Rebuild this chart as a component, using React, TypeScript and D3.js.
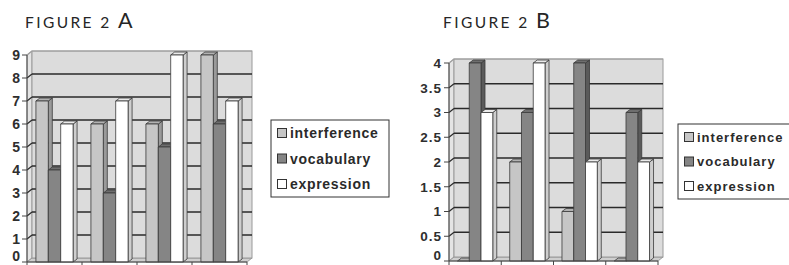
import * as d3 from 'd3'

const CATEGORIES = ['c1', 'c2', 'c3', 'c4']
const SERIES = ['interference', 'vocabulary', 'expression']

// figure 2 A
const A_INTERFERENCE = [7, 6, 6, 9]
const A_VOCABULARY = [4, 3, 5, 6]
const A_EXPRESSION = [6, 7, 9, 7]
const A_TICKS = [0, 1, 2, 3, 4, 5, 6, 7, 8, 9]

// figure 2 B
const B_INTERFERENCE = [0, 2, 1, 0]
const B_VOCABULARY = [4, 3, 4, 3]
const B_EXPRESSION = [3, 4, 2, 2]
const B_TICKS = [0, 0.5, 1, 1.5, 2, 2.5, 3, 3.5, 4]

const FILLS: Record<string, { front: string; side: string; top: string }> = {
  interference: { front: '#c6c6c6', side: '#9a9a9a', top: '#b2b2b2' },
  vocabulary: { front: '#858585', side: '#5a5a5a', top: '#6e6e6e' },
  expression: { front: '#ffffff', side: '#cecece', top: '#ebebeb' },
}

const FONT = "'Liberation Sans', Arial, sans-serif"
const TITLE_FONT = "Lato, 'Open Sans', sans-serif"

// depth of the walls and of the bars
const DX = 5
const DY = -4
const BDX = 4
const BDY = -3

type ChartProps = {
  letter: string
  titleX: number
  series: number[][]
  ticks: number[]
  x0: number
  x1: number
  y0: number
  y1: number
  tickFont: number
  tickSpacing: number
  legend: { x: number; y: number; w: number; h: number; row: number; ls: number; fs: number }
}

function Chart({ letter, titleX, series, ticks, x0, x1, y0, y1, tickFont, tickSpacing, legend }: ChartProps) {
  const max = d3.max(ticks) as number
  const y = d3.scaleLinear().domain([0, max]).range([y0, y1])
  const gx = d3.scaleBand().domain(CATEGORIES).range([x0, x1])
  const sx = d3.scaleBand().domain(SERIES).range([0, gx.bandwidth()]).paddingInner(0).paddingOuter(0.72)
  const w = sx.bandwidth()
  const pts = (p: number[][]) => p.map((d) => d.join(',')).join(' ')
  const yTop = y(max)

  return (
    <g>
      {/* title */}
      <text x={titleX} y={28} fill="#262626" fontFamily={TITLE_FONT}>
        <tspan fontSize={15.5} letterSpacing={2.4}>FIGURE 2 </tspan>
        <tspan fontSize={21.5}>{letter}</tspan>
      </text>

      {/* side wall, floor, back wall */}
      <polygon points={pts([[x0, y0], [x0, yTop], [x0 + DX, yTop + DY], [x0 + DX, y0 + DY]])} fill="#e4e4e4" stroke="#8a8a8a" strokeWidth={0.8} />
      <polygon points={pts([[x0, y0], [x1, y0], [x1 + DX, y0 + DY], [x0 + DX, y0 + DY]])} fill="#cfcfcf" stroke="#8a8a8a" strokeWidth={0.8} />
      <rect x={x0 + DX} y={yTop + DY} width={x1 - x0} height={y0 - yTop} fill="#dcdcdc" stroke="#9a9a9a" strokeWidth={1} />

      {ticks.filter((t) => t > 0).map((t) => (
        <g key={t}>
          <line x1={x0 + DX} x2={x1 + DX} y1={y(t) + DY} y2={y(t) + DY} stroke={t === max ? '#a0a0a0' : '#2a2a2a'} strokeWidth={t === max ? 1 : 1.7} />
          <line x1={x0} x2={x0 + DX} y1={y(t)} y2={y(t) + DY} stroke={t === max ? '#a0a0a0' : '#2a2a2a'} strokeWidth={1.3} />
        </g>
      ))}

      {/* bars */}
      {CATEGORIES.map((c, ci) =>
        SERIES.map((s, si) => {
          const v = series[si][ci]
          const bx = (gx(c) as number) + (sx(s) as number)
          const top = y(v)
          const f = FILLS[s]
          return (
            <g key={c + s} stroke="#3a3a3a" strokeWidth={0.8} strokeLinejoin="round">
              <polygon points={pts([[bx + w, top], [bx + w + BDX, top + BDY], [bx + w + BDX, y0 + BDY], [bx + w, y0]])} fill={f.side} />
              <polygon points={pts([[bx, top], [bx + BDX, top + BDY], [bx + w + BDX, top + BDY], [bx + w, top]])} fill={f.top} />
              <rect x={bx} y={top} width={w} height={Math.max(0, y0 - top)} fill={f.front} />
            </g>
          )
        })
      )}

      {/* axes */}
      <line x1={x0} x2={x0} y1={y0} y2={yTop} stroke="#444" strokeWidth={1} />
      {ticks.map((t) => (
        <g key={'t' + t}>
          <line x1={x0 - 5} x2={x0} y1={y(t)} y2={y(t)} stroke="#444" strokeWidth={1} />
          <text x={x0 - 7} y={Math.min(y(t), 255.5)} dy="0.36em" textAnchor="end" fontFamily={FONT} fontWeight="bold"
            fontSize={tickFont} letterSpacing={tickSpacing} fill="#2e2e2e">
            {t}
          </text>
        </g>
      ))}
      <line x1={x0} x2={x1} y1={y0} y2={y0} stroke="#444" strokeWidth={1} />
      {[...CATEGORIES.map((c) => gx(c) as number), x1].map((gxv, i) => (
        <line key={'x' + i} x1={gxv} x2={gxv} y1={y0} y2={y0 + 5} stroke="#444" strokeWidth={1} />
      ))}

      {/* legend */}
      <rect x={legend.x} y={legend.y} width={legend.w} height={legend.h} fill="#fff" stroke="#333" strokeWidth={1} />
      {SERIES.map((s, i) => {
        const cy = legend.y + 13 + i * legend.row
        return (
          <g key={'l' + s}>
            <rect x={legend.x + 6.5} y={cy - 4.5} width={9} height={9} fill={FILLS[s].front} stroke="#333" strokeWidth={1} />
            <text x={legend.x + 19} y={cy} dy="0.36em" fontFamily={FONT} fontWeight="bold" fontSize={legend.fs}
              letterSpacing={legend.ls} fill="#2a2a2a">
              {s}
            </text>
          </g>
        )
      })}
    </g>
  )
}

export default function App() {
  return (
    <svg width={789} height={265} style={{ position: 'absolute', left: 0, top: 0, background: '#fff' }}>
      <Chart
        letter="A"
        titleX={25}
        series={[A_INTERFERENCE, A_VOCABULARY, A_EXPRESSION]}
        ticks={A_TICKS}
        x0={27}
        x1={247}
        y0={262}
        y1={55}
        tickFont={14}
        tickSpacing={0}
        legend={{ x: 271, y: 120, w: 118, h: 77, row: 25.5, ls: 0.7, fs: 14 }}
      />
      <Chart
        letter="B"
        titleX={443}
        series={[B_INTERFERENCE, B_VOCABULARY, B_EXPRESSION]}
        ticks={B_TICKS}
        x0={449}
        x1={658}
        y0={261}
        y1={63}
        tickFont={13.5}
        tickSpacing={1}
        legend={{ x: 678, y: 124, w: 130, h: 75, row: 24.5, ls: 1, fs: 13 }}
      />
    </svg>
  )
}
